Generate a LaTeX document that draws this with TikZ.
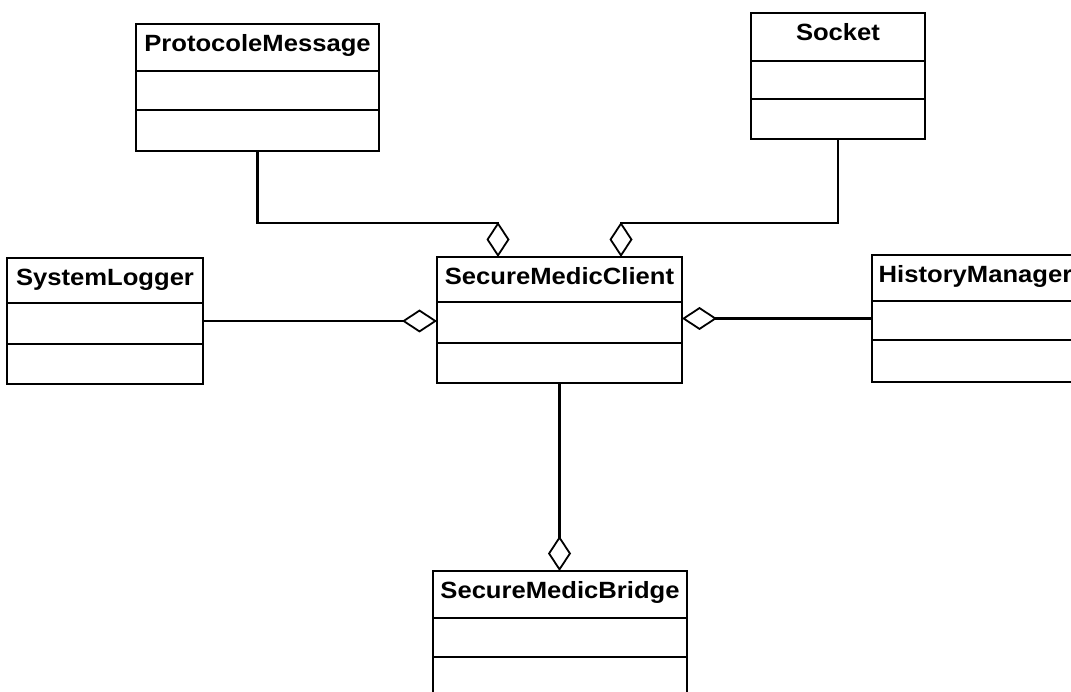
\documentclass[tikz,border=0pt]{standalone}
\usepackage{fontspec}
\setmainfont{Liberation Sans}
\usetikzlibrary{arrows.meta}

% Class box: box node, title, two compartment dividers
% #1 name, #2 x, #3 y (top-left), #4 width, #5 height, #6 title, #7 #8 divider offsets
\newcommand{\umlclass}[8]{%
  \node[classbox, minimum width=#4pt, minimum height=#5pt, anchor=north west] (#1) at (#2,#3) {};
  \node[classtitle, anchor=base] (#1-t) at ([yshift=-27.5pt]#1.north) {#6};
  \draw[divider] ([yshift=-#7pt]#1.north west) -- ([yshift=-#7pt]#1.north east);
  \draw[divider] ([yshift=-#8pt]#1.north west) -- ([yshift=-#8pt]#1.north east);
}

\tikzset{
  classbox/.style={draw=black, line width=2.2pt, fill=white, inner sep=0pt, outer sep=0pt},
  classtitle/.style={font=\fontsize{23.5}{26}\selectfont\bfseries, inner sep=0pt, xscale=1.09},
  divider/.style={line width=2.2pt},
  agg/.style={line width=2.2pt, -{Diamond[open, length=35pt, width=23pt, line width=1.8pt]}},
}

\begin{document}
\begin{tikzpicture}[x=1pt, y=-1pt]
  \path[use as bounding box, clip] (0,0) rectangle (1071,692);
  \fill[white] (0,0) rectangle (1071,692);

  \umlclass{pm}{136}{24}{243}{127}{ProtocoleMessage}{47}{86}
  \umlclass{sock}{751}{13}{174}{126}{Socket}{48}{86}
  \umlclass{sl}{7}{258}{196}{126}{SystemLogger}{45}{86}
  \umlclass{smc}{437}{257}{245}{126}{SecureMedicClient}{45}{86}
  \umlclass{hm}{872}{255}{207}{127}{HistoryManager}{46}{85}
  \umlclass{smb}{433}{571}{254}{160}{SecureMedicBridge}{47}{86}

  \coordinate (a1) at (498,223);
  \coordinate (a2) at (621,223);

  \draw[agg] (pm.south) |- (a1) -- (a1 |- smc.north);
  \draw[agg] (sock.south) |- (a2) -- (a2 |- smc.north);
  \draw[agg] (sl.east) -- (sl.east -| smc.west);
  \draw[agg] (hm.west) -- (hm.west -| smc.east);
  \draw[agg] (smc.south) -- (smc.south |- smb.north);
\end{tikzpicture}
\end{document}
